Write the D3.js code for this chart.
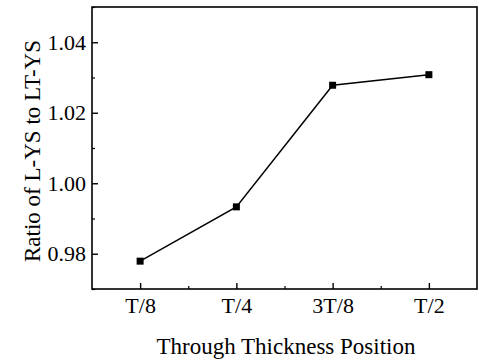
<!DOCTYPE html>
<html>
<head>
<meta charset="utf-8">
<script src="https://cdn.jsdelivr.net/npm/d3@7"></script>
<style>
  html, body { margin: 0; padding: 0; background: #fff; }
  svg { display: block; }
  text { font-family: "Liberation Serif", "Times New Roman", serif; fill: #000; }
</style>
</head>
<body>
<script>
// Through-thickness positions and the measured L-YS / LT-YS ratio
const positions = ["T/8", "T/4", "3T/8", "T/2"];
const ratios = [0.9779, 0.9933, 1.0278, 1.0308];
const yMajorTicks = [0.98, 1.00, 1.02, 1.04];
const yMinorTicks = [0.97, 0.99, 1.01, 1.03, 1.05];

const W = 479, H = 360;
const mLeft = 92, mRight = 477, mTop = 7, mBottom = 289;
const tickFont = 22, titleFont = 23;

const svg = d3.select("body").append("svg")
  .attr("width", W).attr("height", H);

const x = d3.scaleLinear().domain([0.5, positions.length + 0.5]).range([mLeft, mRight]);
const y = d3.scaleLinear().domain([0.97, 1.05]).range([mBottom, mTop]);

const idx = positions.map((_, i) => i + 1);
const xMinor = d3.range(1.5, positions.length, 1);

// Plot frame
svg.append("rect")
  .attr("x", mLeft).attr("y", mTop)
  .attr("width", mRight - mLeft).attr("height", mBottom - mTop)
  .attr("fill", "none").attr("stroke", "#000").attr("stroke-width", 1.6);

// Bottom axis: inward ticks
const gx = svg.append("g").attr("transform", `translate(0,${mBottom})`);
gx.call(d3.axisBottom(x).tickValues(idx).tickSize(-6).tickPadding(8)
    .tickFormat(d => positions[d - 1]))
  .call(g => g.select(".domain").remove())
  .call(g => g.selectAll("line").attr("stroke-width", 1.4))
  .call(g => g.selectAll("text").attr("font-size", tickFont).attr("dy", "0.71em"));
gx.append("g").call(d3.axisBottom(x).tickValues(xMinor).tickSize(-3).tickFormat(""))
  .call(g => g.select(".domain").remove())
  .call(g => g.selectAll("line").attr("stroke-width", 1.2));

// Left axis: inward ticks
const gy = svg.append("g").attr("transform", `translate(${mLeft},0)`);
gy.call(d3.axisLeft(y).tickValues(yMajorTicks).tickSize(-6).tickPadding(6)
    .tickFormat(d3.format(".2f")))
  .call(g => g.select(".domain").remove())
  .call(g => g.selectAll("line").attr("stroke-width", 1.4))
  .call(g => g.selectAll("text").attr("font-size", tickFont));
gy.append("g").call(d3.axisLeft(y).tickValues(yMinorTicks).tickSize(-3).tickFormat(""))
  .call(g => g.select(".domain").remove())
  .call(g => g.selectAll("line").attr("stroke-width", 1.2));

// Axis titles
svg.append("text")
  .attr("x", 286).attr("y", 354)
  .attr("text-anchor", "middle").attr("font-size", titleFont)
  .text("Through Thickness Position");

svg.append("text")
  .attr("transform", "translate(39.5,151) rotate(-90)")
  .attr("text-anchor", "middle").attr("font-size", titleFont)
  .text("Ratio of L-YS to LT-YS");

// Data line and square markers
const pts = ratios.map((v, i) => [x(i + 1), y(v)]);
svg.append("path")
  .attr("d", d3.line()(pts))
  .attr("fill", "none").attr("stroke", "#000").attr("stroke-width", 1.5);

svg.selectAll("rect.pt").data(ratios).enter().append("rect")
  .attr("class", "pt")
  .attr("x", (d, i) => x(i + 1) - 3.5)
  .attr("y", d => y(d) - 3.5)
  .attr("width", 7).attr("height", 7)
  .attr("fill", "#000");
</script>
</body>
</html>
